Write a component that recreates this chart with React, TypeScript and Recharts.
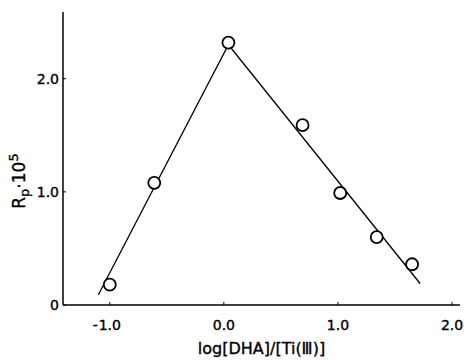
import React from 'react';
import { ScatterChart, Scatter, XAxis, YAxis, Label } from 'recharts';

const xPoints = [-1.0, -0.61, 0.04, 0.69, 1.02, 1.34, 1.65];
const yPoints = [0.18, 1.08, 2.32, 1.59, 0.99, 0.6, 0.36];
const fitX = [-1.1, 0.04, 1.72];
const fitY = [0.09, 2.3, 0.19];
const xTicks = [-1, 0, 1, 2];
const yTicks = [0, 1, 2];
const xLabel = 'log[DHA]/[Ti(Ⅲ)]';

const points = xPoints.map((x, i) => ({ x, y: yPoints[i] }));
const fit = fitX.map((x, i) => ({ x, y: fitY[i] }));

const FONT = '"DejaVu Sans", sans-serif';
const TXT = { fontFamily: FONT, fill: '#000', stroke: '#000', strokeWidth: 0.35 };

const XTick = (props: any) => {
  const { x, y, payload } = props;
  const v: number = payload.value;
  const body = Math.abs(v).toFixed(1);
  return (
    <g>
      <line x1={x} y1={y} x2={x} y2={y - 3} stroke="#000" strokeWidth={1} />
      <text x={x} y={y + 25} textAnchor="middle" fontSize={14} {...TXT}>
        {body}
      </text>
      {v < 0 && (
        <text x={x - 12} y={y + 25} textAnchor="end" fontSize={14} {...TXT}>
          -
        </text>
      )}
    </g>
  );
};

const YTick = (props: any) => {
  const { x, y, payload } = props;
  const v: number = payload.value;
  const s = v === 0 ? '0' : v.toFixed(1);
  return (
    <g>
      <line x1={x + 3} y1={y} x2={x + 6} y2={y} stroke="#000" strokeWidth={1} />
      <text x={x - 1} y={y + 5} textAnchor="end" fontSize={14} {...TXT}>
        {s}
      </text>
    </g>
  );
};

const YLabel = () => (
  <text transform="translate(25,181) rotate(-90)" textAnchor="middle" fontSize={17} {...TXT}>
    <tspan>R</tspan>
    <tspan fontSize={13} dy={4}>p</tspan>
    <tspan dy={-4}>·10</tspan>
    <tspan fontSize={13} dy={-7}>5</tspan>
  </text>
);

const XLabel = (props: any) => {
  const { viewBox } = props;
  const cx = viewBox.x + viewBox.width / 2;
  return (
    <text x={cx} y={354} textAnchor="middle" fontSize={16} {...TXT}>
      {xLabel}
    </text>
  );
};

const Circle = (props: any) => {
  const { cx, cy } = props;
  return <circle cx={cx} cy={cy} r={6} fill="#fff" stroke="#000" strokeWidth={1.8} />;
};

export default function App() {
  return (
    <div style={{ position: 'absolute', left: 0, top: 0, background: '#fff' }}>
      <ScatterChart width={464} height={361} margin={{ top: 12, right: 4, left: 0, bottom: 0 }}>
        <XAxis
          type="number"
          dataKey="x"
          domain={[-1.41, 2.07]}
          ticks={xTicks}
          allowDataOverflow
          height={56}
          tickSize={0}
          tickMargin={0}
          tickLine={false}
          axisLine={{ stroke: '#000', strokeWidth: 1.5 }}
          tick={<XTick />}
          interval={0}
        >
          <Label content={<XLabel />} />
        </XAxis>
        <YAxis
          type="number"
          dataKey="y"
          domain={[0, 2.59]}
          ticks={yTicks}
          allowDataOverflow
          width={63}
          tickSize={0}
          tickMargin={3}
          tickLine={false}
          axisLine={{ stroke: '#000', strokeWidth: 1.5 }}
          tick={<YTick />}
          interval={0}
        >
          <Label content={<YLabel />} />
        </YAxis>
        <Scatter
          data={fit}
          line={{ stroke: '#000', strokeWidth: 1.3 }}
          lineType="joint"
          shape={() => <g />}
          isAnimationActive={false}
        />
        <Scatter data={points} shape={<Circle />} isAnimationActive={false} />
      </ScatterChart>
    </div>
  );
}
